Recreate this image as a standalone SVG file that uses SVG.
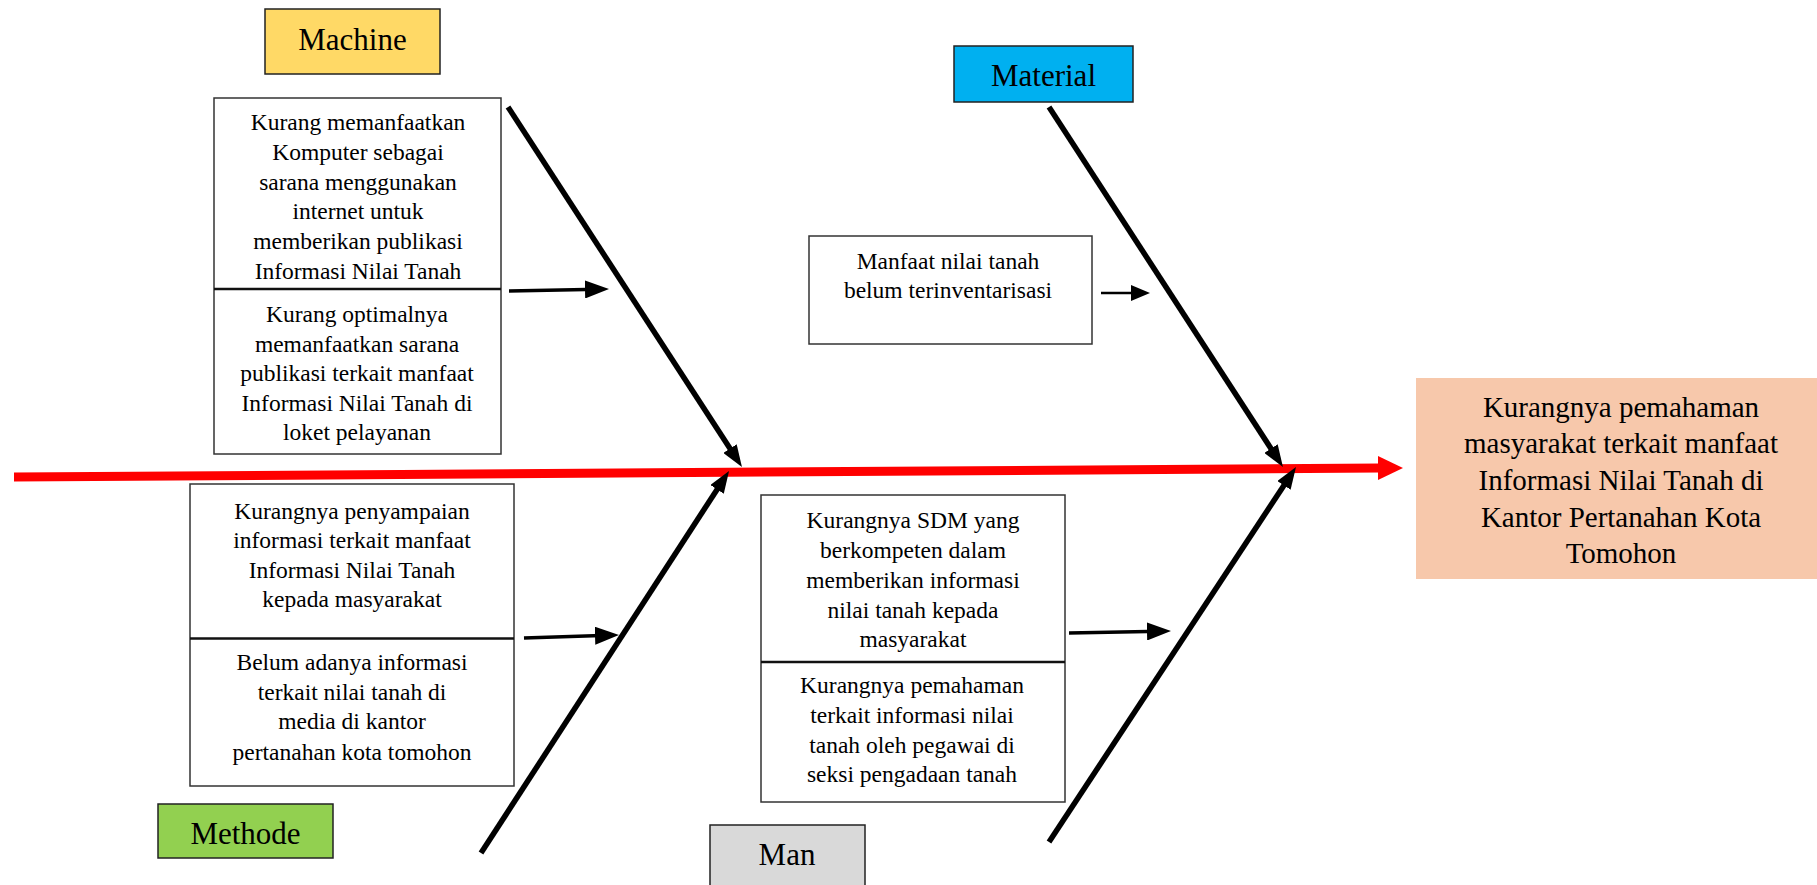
<svg xmlns="http://www.w3.org/2000/svg" width="1817" height="885" viewBox="0 0 1817 885">
<style>
text{font-family:"Liberation Serif","Times New Roman",serif;fill:#000;text-anchor:middle}
.t{font-size:23.5px}
.lbl{font-size:31px}
.eff{font-size:29px}
.box{fill:#fff;stroke:#333;stroke-width:1.5}
.div{stroke:#111;stroke-width:2.5}
.lb{stroke:#222;stroke-width:1.5}
.bone{stroke:#000;stroke-width:5.5;fill:none;marker-end:url(#mBone)}
.sm{stroke:#000;stroke-width:3.5;fill:none;marker-end:url(#mSmall)}
.th{stroke:#000;stroke-width:2.5;fill:none;marker-end:url(#mThin)}
</style>
<defs>
<marker id="mBone" markerUnits="userSpaceOnUse" markerWidth="22" markerHeight="16" refX="12" refY="8" orient="auto"><path d="M0,0 L22,8 L0,16 z" fill="#000"/></marker>
<marker id="mSmall" markerUnits="userSpaceOnUse" markerWidth="24" markerHeight="18" refX="14" refY="9" orient="auto"><path d="M0,0 L24,9 L0,18 z" fill="#000"/></marker>
<marker id="mThin" markerUnits="userSpaceOnUse" markerWidth="19" markerHeight="16" refX="9" refY="8" orient="auto"><path d="M0,0 L19,8 L0,16 z" fill="#000"/></marker>
</defs>
<rect width="1817" height="885" fill="#fff"/>

<g id="connectors">
<line x1="14" y1="477" x2="1380" y2="468" stroke="#f00" stroke-width="9"/>
<polygon points="1378,456 1403,468 1378,480" fill="#f00"/>
<line class="bone" x1="508" y1="107" x2="736.5" y2="458.6"/>
<line class="bone" x1="1049" y1="107" x2="1277.5" y2="458.6"/>
<line class="bone" x1="481" y1="853" x2="723.6" y2="479.4"/>
<line class="bone" x1="1049" y1="842" x2="1290.5" y2="475.4"/>
<line class="sm" x1="509" y1="291" x2="599" y2="289.2"/>
<line class="sm" x1="524" y1="638" x2="609" y2="635.3"/>
<line class="sm" x1="1069" y1="633" x2="1161" y2="631.2"/>
<line class="th" x1="1101" y1="293" x2="1140" y2="293"/>
</g>

<g id="effect">
<rect x="1416" y="378" width="401" height="201" fill="#F7C8AB"/>
<text class="eff" x="1621" y="417">Kurangnya pemahaman</text>
<text class="eff" x="1621" y="453">masyarakat terkait manfaat</text>
<text class="eff" x="1621" y="490">Informasi Nilai Tanah di</text>
<text class="eff" x="1621" y="527">Kantor Pertanahan Kota</text>
<text class="eff" x="1621" y="563">Tomohon</text>
</g>

<g id="label-machine">
<rect class="lb" x="265" y="9" width="175" height="65" fill="#FFD966"/>
<text class="lbl" x="352.5" y="50">Machine</text>
</g>
<g id="label-material">
<rect class="lb" x="954" y="46" width="179" height="56" fill="#00B0F0"/>
<text class="lbl" x="1043.5" y="86">Material</text>
</g>
<g id="label-methode">
<rect class="lb" x="158" y="804" width="175" height="54" fill="#92D050"/>
<text class="lbl" x="245.5" y="844">Methode</text>
</g>
<g id="label-man">
<rect class="lb" x="710" y="825" width="155" height="62" fill="#D9D9D9"/>
<text class="lbl" x="787" y="865">Man</text>
</g>

<g id="machine-causes">
<rect class="box" x="214" y="98" width="287" height="356"/>
<line class="div" x1="214" y1="289" x2="501" y2="289"/>
<text class="t" x="358" y="130">Kurang memanfaatkan</text>
<text class="t" x="358" y="160">Komputer sebagai</text>
<text class="t" x="358" y="190">sarana menggunakan</text>
<text class="t" x="358" y="219">internet untuk</text>
<text class="t" x="358" y="249">memberikan publikasi</text>
<text class="t" x="358" y="279">Informasi Nilai Tanah</text>
<text class="t" x="357" y="322">Kurang optimalnya</text>
<text class="t" x="357" y="352">memanfaatkan sarana</text>
<text class="t" x="357" y="381">publikasi terkait manfaat</text>
<text class="t" x="357" y="411">Informasi Nilai Tanah di</text>
<text class="t" x="357" y="440">loket pelayanan</text>
</g>

<g id="material-causes">
<rect class="box" x="809" y="236" width="283" height="108"/>
<text class="t" x="948" y="269">Manfaat nilai tanah</text>
<text class="t" x="948" y="298">belum terinventarisasi</text>
</g>

<g id="methode-causes">
<rect class="box" x="190" y="484" width="324" height="302"/>
<line class="div" x1="190" y1="638.5" x2="514" y2="638.5"/>
<text class="t" x="352" y="519">Kurangnya penyampaian</text>
<text class="t" x="352" y="548">informasi terkait manfaat</text>
<text class="t" x="352" y="578">Informasi Nilai Tanah</text>
<text class="t" x="352" y="607">kepada masyarakat</text>
<text class="t" x="352" y="670">Belum adanya informasi</text>
<text class="t" x="352" y="700">terkait nilai tanah di</text>
<text class="t" x="352" y="729">media di kantor</text>
<text class="t" x="352" y="760">pertanahan kota tomohon</text>
</g>

<g id="man-causes">
<rect class="box" x="761" y="495" width="304" height="307"/>
<line class="div" x1="761" y1="662" x2="1065" y2="662"/>
<text class="t" x="913" y="528">Kurangnya SDM yang</text>
<text class="t" x="913" y="558">berkompeten dalam</text>
<text class="t" x="913" y="588">memberikan informasi</text>
<text class="t" x="913" y="618">nilai tanah kepada</text>
<text class="t" x="913" y="647">masyarakat</text>
<text class="t" x="912" y="693">Kurangnya pemahaman</text>
<text class="t" x="912" y="723">terkait informasi nilai</text>
<text class="t" x="912" y="753">tanah oleh pegawai di</text>
<text class="t" x="912" y="782">seksi pengadaan tanah</text>
</g>
</svg>
